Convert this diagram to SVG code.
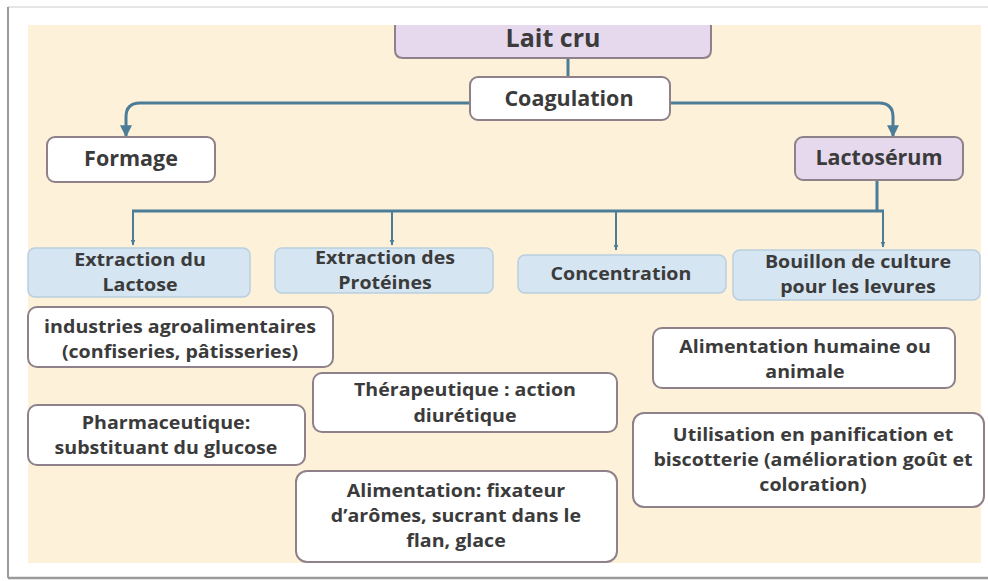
<svg xmlns="http://www.w3.org/2000/svg" width="988" height="581" viewBox="0 0 988 581">
<defs>
<style>
text{font-family:"Open Sans","Noto Sans","Liberation Sans",sans-serif;font-weight:bold;fill:#3b3b3b;text-anchor:middle}
.t{font-size:18px}
.h{font-size:21.5px}
.purple{fill:#e6d9ee;stroke:#8e8189;stroke-width:2}
.white{fill:#ffffff;stroke:#8e8189;stroke-width:2}
.blue{fill:#d5e5f2;stroke:#b9cfe0;stroke-width:1.5}
.conn{fill:none;stroke:#4b7d98;stroke-width:3}
.thin{fill:none;stroke:#4b7d98;stroke-width:2}
</style>
<marker id="arr" viewBox="0 0 10 10" refX="9" refY="5" markerWidth="4" markerHeight="4" orient="auto" markerUnits="strokeWidth">
<path d="M0,0 L10,5 L0,10 z" fill="#4b7d98"/>
</marker>
<marker id="arrs" viewBox="0 0 10 10" refX="9" refY="5" markerWidth="3" markerHeight="3" orient="auto" markerUnits="strokeWidth">
<path d="M0,1 L10,5 L0,9 z" fill="#4b7d98"/>
</marker>
</defs>
<rect x="0" y="0" width="988" height="581" fill="#ffffff"/>
<line x1="8" y1="7" x2="988" y2="7" stroke="#dcdcdc" stroke-width="1.5"/>
<line x1="8" y1="7" x2="8" y2="578" stroke="#9a9a9a" stroke-width="2"/>
<line x1="8" y1="578" x2="988" y2="578" stroke="#9a9a9a" stroke-width="2.5"/>
<rect x="28" y="25" width="953" height="538" fill="#fdf1d9"/>

<g id="connectors">
<line class="conn" x1="568" y1="58" x2="568" y2="78"/>
<path class="conn" d="M470,103 H140 Q126,103 126,117 V136" marker-end="url(#arr)"/>
<path class="conn" d="M670,103 H879 Q893,103 893,117 V136" marker-end="url(#arr)"/>
<line class="conn" x1="877" y1="180" x2="877" y2="212" stroke-width="4"/>
<line class="conn" x1="132" y1="211" x2="884" y2="211"/>
<line class="thin" x1="133" y1="211" x2="133" y2="245" marker-end="url(#arrs)"/>
<line class="thin" x1="392" y1="211" x2="392" y2="245" marker-end="url(#arrs)"/>
<line class="thin" x1="616" y1="211" x2="616" y2="250" marker-end="url(#arrs)"/>
<line class="thin" x1="883" y1="211" x2="883" y2="247" marker-end="url(#arrs)"/>
</g>

<g id="lait-cru">
<path class="purple" d="M395,25 V50 Q395,58 403,58 H703 Q711,58 711,50 V25"/>
<text x="553" y="47" style="font-size:25px">Lait cru</text>
</g>
<g id="coagulation">
<rect class="white" x="470" y="77" width="200" height="43" rx="8"/>
<text class="h" x="569" y="106">Coagulation</text>
</g>
<g id="formage">
<rect class="white" x="47" y="137" width="168" height="45" rx="8"/>
<text class="h" x="131" y="166">Formage</text>
</g>
<g id="lactoserum">
<rect class="purple" x="795" y="137" width="168" height="43" rx="8"/>
<text class="h" x="879" y="165">Lactosérum</text>
</g>

<g id="extraction-lactose">
<rect class="blue" x="28" y="248" width="222" height="49" rx="7"/>
<g transform="translate(140 0) scale(1.09 1) translate(-140 0)">
<text class="t" x="140" y="266">Extraction du</text>
<text class="t" x="140" y="291">Lactose</text>
</g>
</g>
<g id="extraction-proteines">
<rect class="blue" x="275" y="248" width="218" height="45" rx="7"/>
<g transform="translate(385 0) scale(1.09 1) translate(-385 0)">
<text class="t" x="385" y="264">Extraction des</text>
<text class="t" x="385" y="289">Protéines</text>
</g>
</g>
<g id="concentration">
<rect class="blue" x="518" y="255" width="208" height="38" rx="7"/>
<g transform="translate(621 0) scale(1.09 1) translate(-621 0)">
<text class="t" x="621" y="280">Concentration</text>
</g>
</g>
<g id="bouillon">
<rect class="blue" x="733" y="250" width="247" height="50" rx="7"/>
<g transform="translate(858 0) scale(1.09 1) translate(-858 0)">
<text class="t" x="858" y="268">Bouillon de culture</text>
<text class="t" x="858" y="293">pour les levures</text>
</g>
</g>

<g id="industries">
<rect class="white" x="28" y="307" width="305" height="60" rx="9"/>
<g transform="translate(180 0) scale(1.09 1) translate(-180 0)">
<text class="t" x="180" y="333">industries agroalimentaires</text>
<text class="t" x="180" y="358">(confiseries, pâtisseries)</text>
</g>
</g>
<g id="therapeutique">
<rect class="white" x="313" y="373" width="304" height="59" rx="9"/>
<g transform="translate(465 0) scale(1.09 1) translate(-465 0)">
<text class="t" x="465" y="396">Thérapeutique : action</text>
<text class="t" x="465" y="422">diurétique</text>
</g>
</g>
<g id="pharmaceutique">
<rect class="white" x="28" y="405" width="277" height="60" rx="9"/>
<g transform="translate(166 0) scale(1.09 1) translate(-166 0)">
<text class="t" x="166" y="429">Pharmaceutique:</text>
<text class="t" x="166" y="454">substituant du glucose</text>
</g>
</g>
<g id="alimentation-fixateur">
<rect class="white" x="296" y="471" width="321" height="91" rx="11"/>
<g transform="translate(456 0) scale(1.09 1) translate(-456 0)">
<text class="t" x="456" y="497">Alimentation: fixateur</text>
<text class="t" x="456" y="522">d’arômes, sucrant dans le</text>
<text class="t" x="456" y="547">flan, glace</text>
</g>
</g>
<g id="alimentation-humaine">
<rect class="white" x="653" y="328" width="302" height="60" rx="9"/>
<g transform="translate(805 0) scale(1.09 1) translate(-805 0)">
<text class="t" x="805" y="353">Alimentation humaine ou</text>
<text class="t" x="805" y="378">animale</text>
</g>
</g>
<g id="utilisation">
<rect class="white" x="633" y="413" width="351" height="94" rx="11"/>
<g transform="translate(813 0) scale(1.09 1) translate(-813 0)">
<text class="t" x="813" y="441">Utilisation en panification et</text>
<text class="t" x="813" y="466">biscotterie (amélioration goût et</text>
<text class="t" x="813" y="491">coloration)</text>
</g>
</g>
</svg>
